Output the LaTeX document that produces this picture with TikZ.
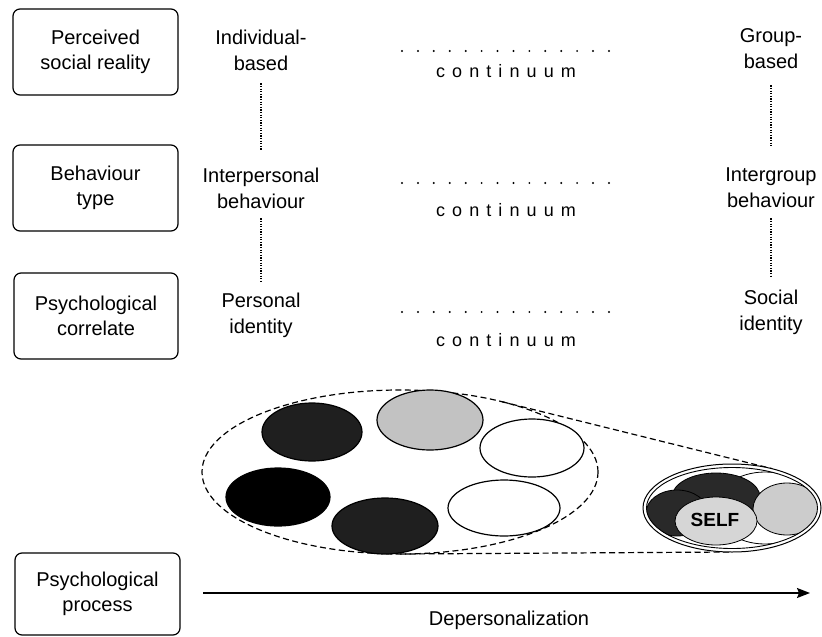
\documentclass[tikz,border=0pt]{standalone}
\usepackage{fontspec}
\setmainfont{Liberation Sans}
\usetikzlibrary{arrows.meta}

\definecolor{inkdark}{gray}{0.12}
\definecolor{inkgrey}{gray}{0.76}
\definecolor{clusterdark}{gray}{0.16}
\definecolor{clustergrey}{gray}{0.80}
\definecolor{selfgrey}{gray}{0.84}

% letter-spaced "continuum"
\newlength\cgap \setlength\cgap{7.1pt}
\newcommand\contword{c\kern\cgap o\kern\cgap n\kern\cgap t\kern\cgap i\kern\cgap n\kern\cgap u\kern\cgap u\kern\cgap m}

\tikzset{
  rowbox/.style={draw, line width=1.2pt, rounded corners=7pt, minimum width=165pt,
    minimum height=86pt, inner sep=0pt, align=center, font=\fontsize{20}{25.5}\selectfont},
  pole/.style={inner sep=0pt, align=center, anchor=base, font=\fontsize{20}{25.5}\selectfont},
  link/.style={line width=1.7pt, dash pattern=on 1.2pt off 1.4pt},
  dotrow/.style={line width=2.2pt, line cap=round, dash pattern=on 0pt off 15.92pt},
  contlabel/.style={anchor=base, inner sep=0pt, font=\fontsize{18}{20}\selectfont},
  member/.style={line width=1.2pt},
  funnel/.style={line width=1.2pt, dash pattern=on 6pt off 3.5pt},
}

\begin{document}
\begin{tikzpicture}[x=1pt, y=-1pt]
\useasboundingbox (0,0) rectangle (822,637);

% row headings
\node[rowbox] (reality) at (95.5,52)  {Perceived\\social reality};
\node[rowbox] (btype)   at (95.5,188) {Behaviour\\type};
\node[rowbox, minimum width=164pt] (corr) at (96,316) {Psychological\\correlate};
\node[rowbox, minimum height=82pt] (proc) at (97.5,594) {Psychological\\process};

% left poles
\node[pole] (ind)   at (261,70)  {Individual-\\based};
\node[pole] (inter) at (261,208) {Interpersonal\\behaviour};
\node[pole] (pers)  at (261,333) {Personal\\identity};

% right poles
\node[pole] (grp)  at (771,68)  {Group-\\based};
\node[pole] (intg) at (771,207) {Intergroup\\behaviour};
\node[pole] (soc)  at (771,330) {Social\\identity};

% vertical dotted links
\draw[link, shorten <=13pt, shorten >=18pt] (ind.south) -- (inter.north);
\draw[link, shorten <=10pt, shorten >=11pt] (inter.south) -- (pers.north);
\draw[link, shorten <=17pt, shorten >=20pt] (grp.south) -- (intg.north);
\draw[link, shorten <=11pt, shorten >=13pt] (intg.south) -- (soc.north);

% continua
\foreach \dy/\cy in {51/77, 183/216, 312/346}{
  \draw[dotrow] (402,\dy) -- (610,\dy);
  \node[contlabel] at (506,\cy) {\contword};
}

% individuals within the group
\draw[funnel] (400,472) ellipse [x radius=198pt, y radius=82pt];
\draw[funnel] (502.3,401.8) -- (772.2,468.7);
\draw[funnel] (400,554) -- (732,552);

\filldraw[member, fill=inkdark]  (312,432) ellipse [x radius=50pt, y radius=29pt];
\filldraw[member, fill=inkgrey]  (430,420) ellipse [x radius=53pt, y radius=30pt];
\filldraw[member, fill=white]    (532,448) ellipse [x radius=52pt, y radius=29pt];
\filldraw[member, fill=black]    (278,497) ellipse [x radius=52pt, y radius=29pt];
\filldraw[member, fill=inkdark]  (385,526) ellipse [x radius=53pt, y radius=28pt];
\filldraw[member, fill=white]    (504,508) ellipse [x radius=56pt, y radius=28pt];

% depersonalized group with the self
\fill[white] (732,508) ellipse [x radius=89pt, y radius=44pt];
\begin{scope}
  \clip (732,508) ellipse [x radius=85.5pt, y radius=40.5pt];
  \filldraw[line width=0.8pt, fill=white] (765,508) ellipse [x radius=50pt, y radius=36pt];
  \filldraw[line width=0.8pt, fill=clusterdark] (716,497) ellipse [x radius=44pt, y radius=24pt];
  \filldraw[line width=0.8pt, fill=clusterdark] (677,513) ellipse [x radius=31pt, y radius=23pt];
  \filldraw[line width=0.8pt, fill=clustergrey] (787,509) ellipse [x radius=34pt, y radius=26pt];
  \filldraw[line width=0.8pt, fill=selfgrey] (716,521) ellipse [x radius=41pt, y radius=24pt];
\end{scope}
\node[font=\fontsize{19}{19}\selectfont\bfseries] (self) at (715,520) {SELF};
\draw[line width=1pt] (732,508) ellipse [x radius=89pt, y radius=44pt];
\draw[line width=0.9pt] (732,508) ellipse [x radius=85.5pt, y radius=40.5pt];

% depersonalization axis
\coordinate (axisstart) at (203,593);
\coordinate (axisend) at (810,593);
\draw[line width=1.3pt, -{Stealth[length=13pt, width=10pt, inset=2pt]}] (axisstart) -- (axisend);
\node[pole] (dep) at (509,625) {Depersonalization};
\end{tikzpicture}
\end{document}
